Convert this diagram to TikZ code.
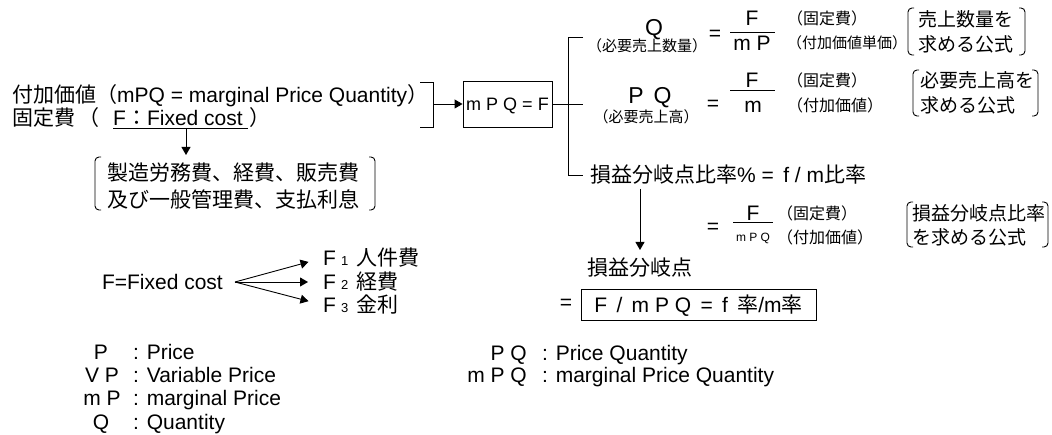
\documentclass[tikz,border=0pt]{standalone}
\usepackage{fontspec}
\setmainfont{Liberation Sans}
\newfontfamily\jp{Noto Sans CJK JP}
\usetikzlibrary{arrows.meta}
\tikzset{
 fA/.style={inner sep=0pt,font=\fontsize{21}{24}\selectfont,text height=18.5pt,text depth=2.5pt},
 fQ/.style={inner sep=0pt,font=\fontsize{23}{26}\selectfont,text height=20.2pt,text depth=2.8pt},
 fB/.style={inner sep=0pt,font=\fontsize{19}{22}\selectfont,text height=16.7pt,text depth=2.3pt},
 fM/.style={inner sep=0pt,font=\fontsize{18}{21}\selectfont,text height=15.8pt,text depth=2.2pt},
 fS/.style={inner sep=0pt,font=\fontsize{16}{19}\selectfont,text height=14.1pt,text depth=1.9pt},
 fX/.style={inner sep=0pt,font=\fontsize{15}{18}\selectfont,text height=13.2pt,text depth=1.8pt},
 fT/.style={inner sep=0pt,font=\fontsize{12}{14}\selectfont,text height=10.6pt,text depth=1.4pt},
 ln/.style={line width=0.9pt},
 arr/.style={ln,-{Triangle[length=8pt,width=9pt]}},
 rb/.style={ln,rounded corners=4pt},
}
\newcommand{\subd}[1]{{\fontsize{13}{13}\selectfont #1}}
\begin{document}
\begin{tikzpicture}[x=1pt,y=-1pt]
\useasboundingbox (0,0) rectangle (1052,435);

% ---- top left
\node[fA,anchor=west] (mpq) at (12,95) {{\jp 付加価値（}mPQ = marginal Price Quantity{\jp ）}};
\node[fA,anchor=west] (kotei) at (12,118) {\jp 固定費};
\node[fA,anchor=west] (kp1) at (78,118) {\jp （};
\node[fA,anchor=west] (fcost) at (113,118) {F{\jp ：}Fixed cost};
\node[fA,anchor=west] (kp2) at (249,118) {\jp ）};
\coordinate (ulA) at (113,128);
\coordinate (ulB) at (248,128);
\draw[ln] (ulA) -- (ulB);

\draw[ln] (420,82) -- (433,82) -- (433,127) -- (420,127);
\coordinate (brk) at (433,104);
\node[fM,draw,ln,minimum width=89pt,minimum height=46pt] (box) at (507.5,104) {m P Q = F};
\draw[arr] (brk) -- (box.west);

% ---- tree
\coordinate (tTop) at (568,37);
\coordinate (tBot) at (568,175);
\coordinate (tMid) at (583,104);
\coordinate (tTopE) at (583,37);
\coordinate (tBotE) at (583,175);
\draw[ln] (box.east) -- (tMid);
\draw[ln] (tTopE) -- (tTop) -- (tBot) -- (tBotE);

% ---- Q block
\node[fQ] (Q) at (654,27) {Q};
\node[fX] (Qj) at (647,46) {\jp （必要売上数量）};
\node[fA] (eqA) at (715,33) {=};
\node[fA] (FA) at (752,18) {F};
\draw[ln] (730,32) -- (775,32);
\node[fA] (mP) at (752,43) {m P};
\node[fS,anchor=west] (kA) at (787,18) {\jp （固定費）};
\node[fX,anchor=west] (fA2) at (787,43) {\jp （付加価値単価）};
\node[fB,anchor=west] (bA1) at (918,19) {\jp 売上数量を};
\node[fB,anchor=west] (bA2) at (918,44) {\jp 求める公式};
\draw[rb] (914,8) -- (908,8) -- (908,55) -- (914,55);
\draw[rb] (1019,8) -- (1025,8) -- (1025,55) -- (1019,55);

% ---- PQ block
\node[fQ] (PQ) at (650,95) {P\hspace{10pt}Q};
\node[fX] (PQj) at (646,117) {\jp （必要売上高）};
\node[fA] (eqB) at (713,103) {=};
\node[fA] (FB) at (752,80) {F};
\draw[ln] (730,90) -- (775,90);
\node[fA] (mB) at (753,105) {m};
\node[fS,anchor=west] (kB) at (787,80) {\jp （固定費）};
\node[fS,anchor=west] (fB2) at (787,105) {\jp （付加価値）};
\node[fB,anchor=west] (bB1) at (920,80) {\jp 必要売上高を};
\node[fB,anchor=west] (bB2) at (920,105) {\jp 求める公式};
\draw[rb] (919,70) -- (913,70) -- (913,116) -- (919,116);
\draw[rb] (1032,70) -- (1038,70) -- (1038,116) -- (1032,116);

% ---- break-even ratio
\node[fA,anchor=west] (ratio) at (590,175) {{\jp 損益分岐点比率}\% = \,f / m{\jp 比率}};
\coordinate (aS) at (640,189);
\coordinate (aE) at (640,250);
\draw[arr] (aS) -- (aE);

\node[fA] (eqC) at (713,226) {=};
\node[fA] (FC) at (753,213) {F};
\draw[ln] (733,222) -- (773,222);
\node[fT] (mC) at (753,237) {m P Q};
\node[fS,anchor=west] (kC) at (777,213) {\jp （固定費）};
\node[fS,anchor=west] (fC2) at (777,237) {\jp （付加価値）};
\node[fB,anchor=west] (bC1) at (912,213) {\jp 損益分岐点比率};
\node[fB,anchor=west] (bC2) at (912,237) {\jp を求める公式};
\draw[rb] (913,202) -- (907,202) -- (907,247) -- (913,247);
\draw[rb] (1042,202) -- (1048,202) -- (1048,247) -- (1042,247);

\node[fA,anchor=west] (bep) at (587,268) {\jp 損益分岐点};
\node[fA] (eqD) at (566,302) {=};
\node[fA,draw,ln,minimum width=235pt,minimum height=31pt] (res) at (698.5,304.5) {F\, /\, m P Q \,=\, f\, {\jp 率}/m{\jp 率}};

% ---- left block
\coordinate (ua) at (186,128);
\coordinate (ub) at (186,155);
\draw[arr] (ua) -- (ub);
\node[fA,anchor=west] (c1) at (107,173) {\jp 製造労務費、経費、販売費};
\node[fA,anchor=west] (c2) at (107,200) {\jp 及び一般管理費、支払利息};
\draw[rb] (101,157) -- (95,157) -- (95,210) -- (101,210);
\draw[rb] (369,157) -- (375,157) -- (375,210) -- (369,210);

% ---- F = Fixed cost
\node[fA,anchor=east] (fx) at (223,282) {F=Fixed cost};
\coordinate (fo) at (235,282);
\node[fA,anchor=west] (F1) at (323,258) {F\hspace{5pt}\subd{1}\hspace{8pt}{\jp 人件費}};
\node[fA,anchor=west] (F2) at (323,282) {F\hspace{5pt}\subd{2}\hspace{8pt}{\jp 経費}};
\node[fA,anchor=west] (F3) at (323,305) {F\hspace{5pt}\subd{3}\hspace{8pt}{\jp 金利}};
\draw[arr,shorten >=15pt] (fo) -- (F1.west);
\draw[arr,shorten >=15pt] (fo) -- (F2.west);
\draw[arr,shorten >=15pt] (fo) -- (F3.west);

% ---- legend
\node[fA] (lP) at (101,352) {P};
\node[fA,anchor=west] (lPt) at (133,352) {: Price};
\node[fA] (lVP) at (102,375) {V P};
\node[fA,anchor=west] (lVPt) at (133,375) {: Variable Price};
\node[fA] (lmP) at (102,398) {m P};
\node[fA,anchor=west] (lmPt) at (133,398) {: marginal Price};
\node[fA] (lQ) at (101,421) {Q};
\node[fA,anchor=west] (lQt) at (133,421) {: Quantity};

\node[fA,anchor=east] (rPQ) at (527,353) {P Q};
\node[fA,anchor=west] (rPQt) at (542,353) {: Price Quantity};
\node[fA,anchor=east] (rmPQ) at (527,375) {m P Q};
\node[fA,anchor=west] (rmPQt) at (542,375) {: marginal Price Quantity};
\end{tikzpicture}
\end{document}
